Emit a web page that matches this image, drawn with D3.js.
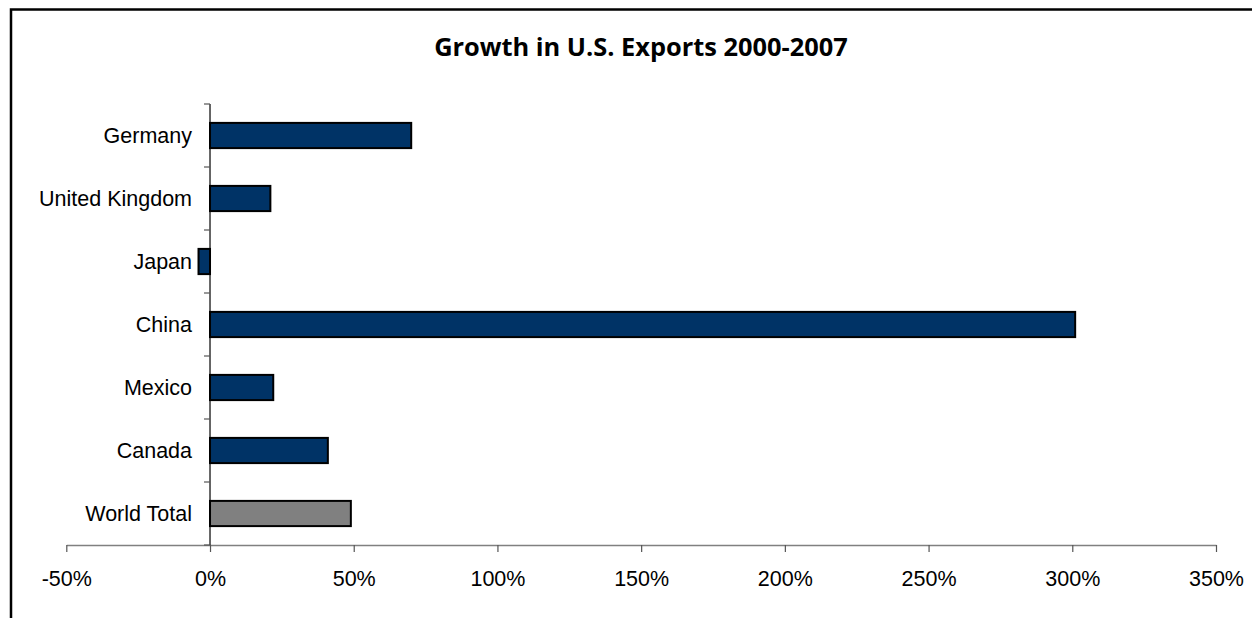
<!DOCTYPE html>
<html>
<head>
<meta charset="utf-8">
<script src="https://cdn.jsdelivr.net/npm/d3@7"></script>
<style>
  html, body { margin: 0; padding: 0; background: #fff; }
  svg { display: block; }
</style>
</head>
<body>
<svg id="chart" width="1252" height="618"></svg>
<script>
// Export growth by destination, 2000-2007 (percent change)
const countries = ["Germany", "United Kingdom", "Japan", "China", "Mexico", "Canada", "World Total"];
const growth = [70, 21, -4, 301, 22, 41, 49];
const xTicks = [-50, 0, 50, 100, 150, 200, 250, 300, 350];
const title = "Growth in U.S. Exports 2000-2007";

const svg = d3.select("#chart");
const W = 1252, H = 618;

// outer frame (continues past the right and bottom edges)
svg.append("rect")
  .attr("x", 11).attr("y", 9.5)
  .attr("width", W + 10).attr("height", H + 10)
  .attr("fill", "#fff").attr("stroke", "#000").attr("stroke-width", 2.5);

const plot = { left: 66.3, right: 1216, top: 104, bottom: 545 };

const x = d3.scaleLinear()
  .domain([-50, 350])
  .range([plot.left, plot.right]);

const y = d3.scaleBand()
  .domain(countries)
  .range([plot.top, plot.bottom])
  .paddingInner(0.6)
  .paddingOuter(0.3);

const labelFont = "'Liberation Sans', Arial, sans-serif";

// title
svg.append("text")
  .attr("x", 641).attr("y", 56)
  .attr("text-anchor", "middle")
  .attr("font-family", "'Open Sans', sans-serif")
  .attr("font-weight", 700)
  .attr("font-size", 25.4)
  .attr("fill", "#000")
  .text(title);

// bars
svg.append("g")
  .selectAll("rect")
  .data(countries.map((c, i) => ({ country: c, value: growth[i] })))
  .join("rect")
  .attr("x", d => x(Math.min(0, d.value)))
  .attr("y", d => y(d.country))
  .attr("width", d => Math.abs(x(d.value) - x(0)))
  .attr("height", y.bandwidth())
  .attr("fill", d => d.country === "World Total" ? "#808080" : "#003366")
  .attr("stroke", "#000")
  .attr("stroke-width", 2);

// x axis
const xAxis = d3.axisBottom(x)
  .tickValues(xTicks)
  .tickFormat(d => d + "%")
  .tickSizeInner(7)
  .tickSizeOuter(0)
  .tickPadding(19);

const gx = svg.append("g")
  .attr("transform", `translate(0,${plot.bottom})`)
  .call(xAxis);
gx.select(".domain").attr("stroke", "#808080").attr("stroke-width", 1.5);
gx.selectAll(".tick line").attr("stroke", "#555").attr("stroke-width", 1.2);
gx.selectAll(".tick text")
  .attr("font-family", labelFont)
  .attr("font-size", 21.5)
  .attr("fill", "#000");

// y axis: ticks at category boundaries, labels centred in each band
const gy = svg.append("g")
  .attr("transform", `translate(${x(0)},0)`);
gy.append("line")
  .attr("x1", 0).attr("x2", 0)
  .attr("y1", plot.top).attr("y2", plot.bottom)
  .attr("stroke", "#000").attr("stroke-width", 1.2);

const boundaries = d3.range(countries.length + 1).map(i => plot.top + i * (plot.bottom - plot.top) / countries.length);
gy.selectAll("line.cat")
  .data(boundaries)
  .join("line")
  .attr("class", "cat")
  .attr("x1", -6).attr("x2", 0)
  .attr("y1", d => d).attr("y2", d => d)
  .attr("stroke", "#555").attr("stroke-width", 1.2);

gy.selectAll("text")
  .data(countries)
  .join("text")
  .attr("x", -18)
  .attr("y", d => y(d) + y.bandwidth() / 2)
  .attr("dy", "0.35em")
  .attr("text-anchor", "end")
  .attr("font-family", labelFont)
  .attr("font-size", 21.5)
  .attr("fill", "#000")
  .text(d => d);
</script>
</body>
</html>
